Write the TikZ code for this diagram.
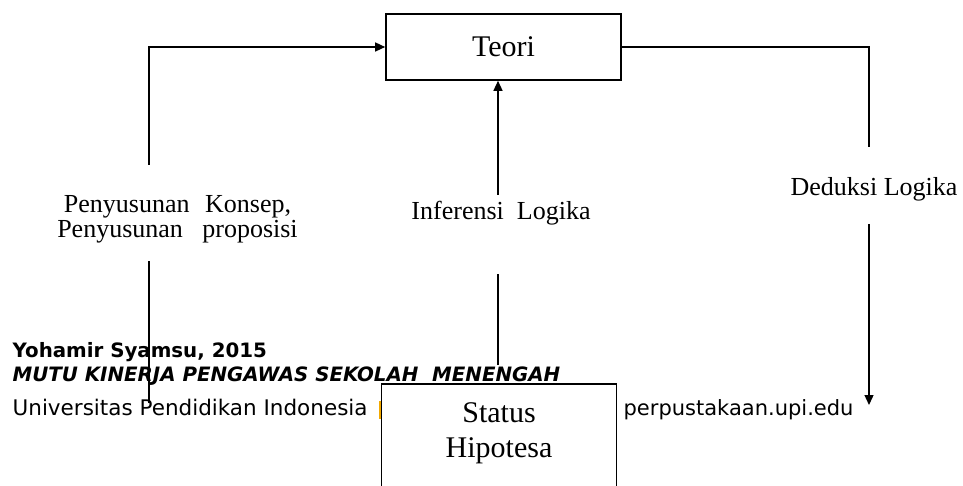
\documentclass[tikz,border=0pt]{standalone}
\usepackage{fontspec}
\setmainfont{Liberation Serif}
\newfontfamily\footfont{DejaVu Sans}
\usetikzlibrary{arrows.meta}
\definecolor{logo}{HTML}{F2A900}

\tikzset{
  box/.style={draw, line width=1.6pt, fill=white, minimum width=235pt, font=\fontsize{30}{35}\selectfont},
  ket/.style={align=center, inner sep=0pt, font=\fontsize{26}{25}\selectfont},
  foot/.style={anchor=base west, inner sep=0pt},
}

\begin{document}
\begin{tikzpicture}[>={Triangle[length=10pt,width=9pt]}, line width=1.3pt]
  \useasboundingbox (0pt,0pt) rectangle (963pt,-486pt);
  \draw (12pt,-357pt) node[foot, font=\footfont\bfseries\fontsize{19.8}{20}\selectfont](penulis){Yohamir Syamsu, 2015};
  \draw (12pt,-381pt) node[foot, font=\footfont\bfseries\itshape\fontsize{19.8}{20}\selectfont](judul){MUTU KINERJA PENGAWAS SEKOLAH\ \ MENENGAH};
  \draw (12pt,-415pt) node[foot, font=\footfont\fontsize{21.5}{22}\selectfont](univ){Universitas Pendidikan Indonesia};
  \draw (623pt,-415pt) node[foot, font=\footfont\fontsize{21}{22}\selectfont](situs){perpustakaan.upi.edu};
  \fill[logo] (379pt,-401pt) rectangle (382pt,-419pt);
  \draw (503.5pt,-47pt) node[box, minimum height=66pt](teori){Teori};
  \draw (499pt,-383pt) node[box, anchor=north, align=center, inner ysep=19pt, text depth=75pt](status){Status\\Hipotesa};
  \draw (177.5pt,-219pt) node[ket](konsep){Penyusunan\hspace{0.35em} Konsep,\\Penyusunan\hspace{0.5em} proposisi};
  \draw (501pt,-213pt) node[ket](inferensi){Inferensi\hspace{0.25em} Logika};
  \draw (874pt,-189pt) node[ket](deduksi){Deduksi Logika};
  \coordinate (a1) at (149pt,-403pt);
  \coordinate (a2) at (149pt,-261pt);
  \coordinate (a3) at (149pt,-165pt);
  \coordinate (b1) at (498pt,-365pt);
  \coordinate (b2) at (498pt,-274pt);
  \coordinate (b3) at (498pt,-195pt);
  \coordinate (c1) at (869pt,-147pt);
  \coordinate (c2) at (869pt,-224pt);
  \coordinate (c3) at (869pt,-405pt);
  \draw (a1) -- (a2);
  \draw[->] (a3) |- (teori.west);
  \draw (b1) -- (b2);
  \draw[->] (b3) -- (b3 |- teori.south);
  \draw (teori.east) -| (c1);
  \draw[->] (c2) -- (c3);
\end{tikzpicture}
\end{document}
